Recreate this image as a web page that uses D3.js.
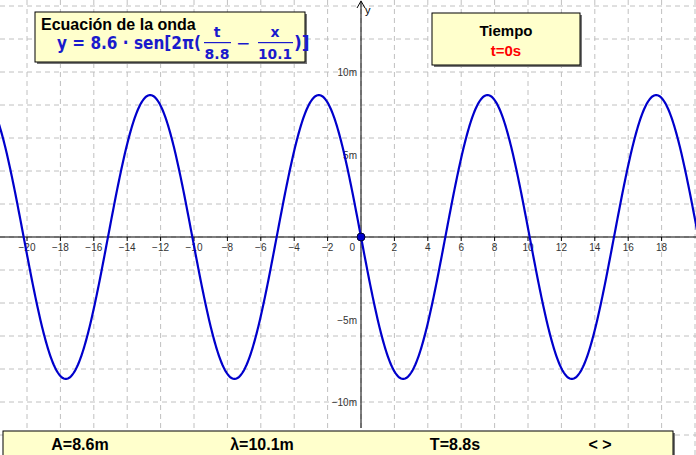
<!DOCTYPE html>
<html><head><meta charset="utf-8">
<script src="https://cdn.jsdelivr.net/npm/d3@7"></script>
<style>body{margin:0;background:#fff}svg{display:block;font-family:"Liberation Sans",Arial,sans-serif}</style>
</head><body><svg id="c" width="696" height="455"></svg>
<script>
// datos de la onda
const amplitud = 8.6
const longitudOnda = 10.1
const periodo = 8.8
const tiempo = 0
const xTicks = [-20,-18,-16,-14,-12,-10,-8,-6,-4,-2,2,4,6,8,10,12,14,16,18]
const yTicks = [-10,-5,5,10]
const info = [["A=8.6m",80],["λ=10.1m",262],["T=8.8s",455],["<  >",600]]

const svg = d3.select("#c")
const x = d3.scaleLinear().domain([0,20]).range([361,695])
const y = d3.scaleLinear().domain([0,10]).range([237,72])

// rejilla
const g = svg.append("g").attr("stroke","#c0c0c0").attr("stroke-dasharray","5,4")
for (let v = -22; v <= 22; v += 2) g.append("line").attr("x1",x(v)).attr("x2",x(v)).attr("y1",0).attr("y2",455)
for (let v = -14; v <= 14; v += 2) g.append("line").attr("y1",y(v)).attr("y2",y(v)).attr("x1",0).attr("x2",696)

// ejes
svg.append("line").attr("x1",0).attr("x2",696).attr("y1",y(0)).attr("y2",y(0)).attr("stroke","#000")
svg.append("line").attr("x1",x(0)).attr("x2",x(0)).attr("y1",2).attr("y2",428).attr("stroke","#000")
svg.append("path").attr("d",`M${x(0)-4},8 L${x(0)},1 L${x(0)+4},8`).attr("fill","none").attr("stroke","#000")
svg.append("text").attr("x",x(0)+4).attr("y",14).attr("font-size",11).text("y")
svg.selectAll(".xt").data(xTicks).join("text").attr("x",d=>x(d)).attr("y",y(0)+14)
  .attr("text-anchor","middle").attr("font-size",10).attr("fill","#333").text(d=>d<0?"−"+(-d):d)
svg.selectAll(".xk").data(xTicks).join("line").attr("x1",d=>x(d)).attr("x2",d=>x(d)).attr("y1",y(0)).attr("y2",y(0)+4).attr("stroke","#000")
svg.append("text").attr("x",x(0)-6).attr("y",y(0)+14).attr("text-anchor","end").attr("font-size",10).attr("fill","#333").text("0")
svg.selectAll(".yt").data(yTicks).join("text").attr("x",x(0)-4).attr("y",d=>y(d)+4)
  .attr("text-anchor","end").attr("font-size",10).attr("fill","#333").text(d=>(d<0?"−"+(-d):d)+"m")

// curva
const xs = d3.range(-22,22.01,0.05)
const onda = d3.line().x(d=>x(d)).y(d=>y(amplitud*Math.sin(2*Math.PI*(tiempo/periodo - d/longitudOnda))))
svg.append("path").attr("d",onda(xs)).attr("fill","none").attr("stroke","#0000cc").attr("stroke-width",2.2)
svg.append("circle").attr("cx",x(0)).attr("cy",y(0)).attr("r",4).attr("fill","#0000cc").attr("stroke","#000033")

// cajas
function caja(x0,y0,w,h){
  svg.append("rect").attr("x",x0+2).attr("y",y0+2).attr("width",w).attr("height",h).attr("fill","#777")
  svg.append("rect").attr("x",x0).attr("y",y0).attr("width",w).attr("height",h).attr("fill","#ffffcc").attr("stroke","#000")
}
caja(35,12,270,50)
svg.append("text").attr("x",41).attr("y",30).attr("font-size",16).attr("font-weight","bold").text("Ecuación de la onda")
const eq = svg.append("g").attr("fill","#1a1acc").attr("font-weight","bold").attr("font-family","'DejaVu Sans',sans-serif").attr("font-size",17)
eq.append("text").attr("x",57).attr("y",49).attr("textLength",144).attr("lengthAdjust","spacingAndGlyphs").text("y = 8.6 · sen[2π(")
eq.append("text").attr("x",217).attr("y",37).attr("text-anchor","middle").attr("font-size",14).text("t")
eq.append("rect").attr("x",204).attr("y",42).attr("width",27).attr("height",1.2)
eq.append("text").attr("x",217).attr("y",59).attr("text-anchor","middle").attr("font-size",14).text("8.8")
eq.append("text").attr("x",236).attr("y",49).attr("font-weight","normal").text("−")
eq.append("text").attr("x",275).attr("y",37).attr("text-anchor","middle").attr("font-size",14).text("x")
eq.append("rect").attr("x",258).attr("y",42).attr("width",35).attr("height",1.2)
eq.append("text").attr("x",275).attr("y",59).attr("text-anchor","middle").attr("font-size",14).attr("textLength",34).attr("lengthAdjust","spacingAndGlyphs").text("10.1")
eq.append("text").attr("x",294).attr("y",49).text(")]")

caja(432,13,148,52)
svg.append("text").attr("x",506).attr("y",36).attr("text-anchor","middle").attr("font-size",15).attr("font-weight","bold").text("Tiempo")
svg.append("text").attr("x",506).attr("y",56).attr("text-anchor","middle").attr("font-size",15).attr("font-weight","bold").attr("fill","#ff0000").text(`t=${tiempo}s`)

caja(3,431,670,30)
svg.selectAll(".inf").data(info).join("text").attr("x",d=>d[1]).attr("y",450).attr("text-anchor","middle")
  .attr("font-size",16).attr("font-weight","bold").text(d=>d[0])
</script></body></html>
